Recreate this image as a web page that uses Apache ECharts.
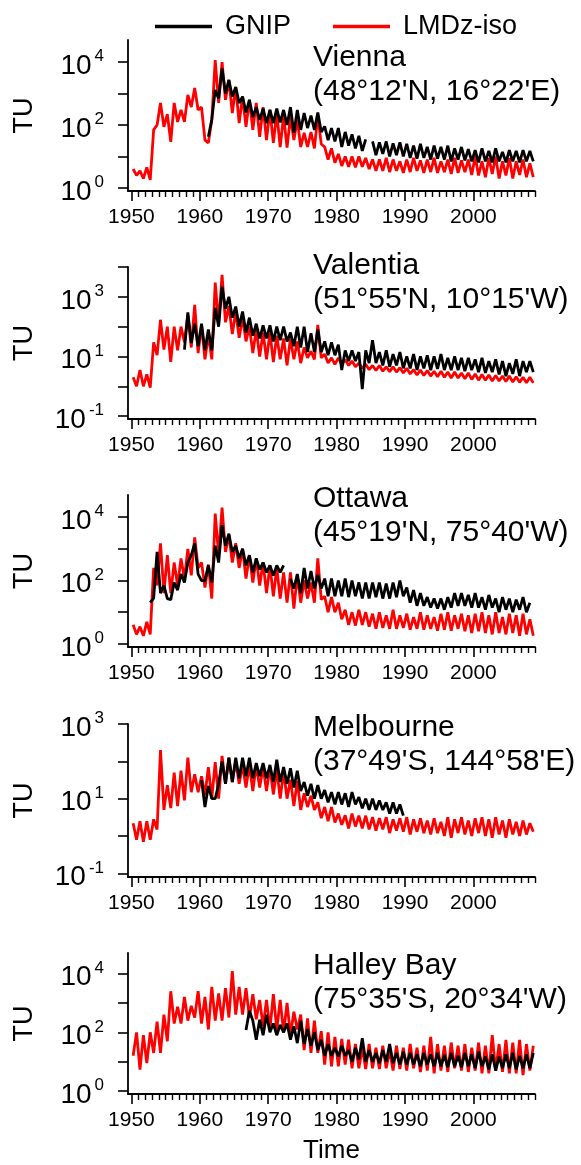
<!DOCTYPE html>
<html><head><meta charset="utf-8">
<script src="https://cdn.jsdelivr.net/npm/echarts@6/dist/echarts.min.js"></script>
<style>html,body{margin:0;padding:0;background:#fff}#c{width:581px;height:1165px}</style>
</head><body><div id="c"></div>
<script>
// ---- labels ----
const stationNames = ['Vienna', 'Valentia', 'Ottawa', 'Melbourne', 'Halley Bay'];
const stationCoords = ["(48°12'N, 16°22'E)", "(51°55'N, 10°15'W)", "(45°19'N, 75°40'W)", "(37°49'S, 144°58'E)", "(75°35'S, 20°34'W)"];
const seriesNames = ['GNIP', 'LMDz-iso'];
const yearTicksMajor = [1950, 1960, 1970, 1980, 1990, 2000];
const yearTicksMinor = [1951,1952,1953,1954,1955,1956,1957,1958,1959,1961,1962,1963,1964,1965,1966,1967,1968,1969,1971,1972,1973,1974,1975,1976,1977,1978,1979,1981,1982,1983,1984,1985,1986,1987,1988,1989,1991,1992,1993,1994,1995,1996,1997,1998,1999,2001,2002,2003,2004,2005,2006,2007,2008,2009];

// y ticks / labels (TU) per panel
const ticksVienna = [1, 10, 100, 1000, 10000];   const labelsVienna = [1, 100, 10000];
const ticksValentia = [0.1, 1, 10, 100, 1000, 10000]; const labelsValentia = [0.1, 10, 1000];
const ticksOttawa = [1, 10, 100, 1000, 10000];   const labelsOttawa = [1, 100, 10000];
const ticksMelbourne = [0.1, 1, 10, 100, 1000];  const labelsMelbourne = [0.1, 10, 1000];
const ticksHalley = [1, 10, 100, 1000, 10000];   const labelsHalley = [1, 100, 10000];

// ---- data (TU), half-year steps; first value at start + 0.25 ----
const viennaLMDzStart = 1950;
const viennaLMDz = [4,2.5, 3.5,2, 4.5,1.8, 70,100, 500,87, 220,29, 500,125, 300,125, 900,370, 1500,300,
  370,33, 27,145, 11500,500, 10000,630, 2700,240, 1600,115, 800,87, 630,70, 500,42, 370,33,
  300,27, 240,20, 200,19, 180,33, 145,20, 56,20, 60,18, 200,25, 20,8, 18,6.3,
  12,5, 10,4.7, 10,4.5, 10,4.7, 9,4, 8,3.5, 8,3.5, 9,3.2, 8,3.5, 7,3,
  8,3.2, 9,3.5, 7.5,3, 8,3.2, 9,3, 7,3.2, 8,2.8, 9,3, 7.5,3.2, 8,2.6,
  10,2.5, 7,2.2, 9,2.8, 10,2, 7,2.5, 9,2, 7,2.6, 8,2.2, 6,2.2];
const viennaGNIPStart = 1961;
const viennaGNIP = [42,150, 1300,700, 6300,1000, 2700,800, 1600,500, 800,250, 630,180, 370,145, 330,115,
  300,115, 330,120, 300,100, 370,56, 300,70, 240,80, 200,70, 250,60, 90,33, 80,30,
  80,20, 60,22, 50,18, 45,15, 35,null, 30,11, 28,12, 30,10, 26,11, 28,10,
  25,9, 22,8.5, 25,9, 20,8, 22,8.5, 20,8, 22,7, 18,8, 20,7.5, 17,7,
  16,6.5, 18,7, 15,6.5, 18,7, 14,6.5, 16,7, 15,6.5, 16,7, 15,7];

const valentiaLMDzStart = 1950;
const valentiaLMDz = [2,1, 3.5,1, 2.5,0.9, 30,11, 170,17, 100,6.6, 100,16, 100,30, 250,20, 540,13,
  110,8, 53,8, 3000,130, 5500,140, 500,56, 320,42, 200,32, 100,13, 80,10, 63,8,
  63,6.5, 50,8, 40,5, 40,8, 32,6, 20,9, 15,8, 115,9, 12,6, 9,5.4,
  9,5.4, 8,5, 7,4.5, 6,4, 5.5,3.6, 5,3.4, 5,3.2, 4.5,3.1, 4.5,3, 4.2,2.8,
  4,2.6, 3.6,2.4, 3.5,2.3, 3.4,2.2, 3.2,2.1, 3.2,2, 3,1.9, 3,1.9, 2.8,1.8, 2.8,1.7,
  2.6,1.6, 2.5,1.6, 2.4,1.5, 2.3,1.5, 2.2,1.45, 2.2,1.4, 2.1,1.35, 2,1.3, 2,1.3];
const valentiaGNIPStart = 1957;
const valentiaGNIP = [null,17, 300,28, 125,22,
  125,16, 80,16, 430,100, 2200,400, 1000,200, 470,100, 320,63, 200,50, 125,40, 110,40,
  110,32, 100,35, 100,32, 63,22, 100,20, 100,14, 60,14, 80,14, 32,11, 30,11,
  25,3.5, 16,7, 16,7, 14,0.8, 16,6, 35,6, 14,5, 16,4.5, 12,5, 14,4,
  10,4, 12,3.5, 10,4, 11,3.5, 10,3.8, 12,3.5, 9,3.5, 10,3.5, 9,3.2, 9,3.5,
  8,3, 9,2.8, 7,3, 8,2.5, 7,2.2, 6,2.6, 8,2.2, 7,3, 7,3];

const ottawaLMDzStart = 1950;
const ottawaLMDz = [4,2, 3.5,1.8, 5,2, 250,70, 1500,40, 630,40, 370,70, 500,115, 1000,145, 2300,250,
  370,60, 320,27, 13000,630, 20000,800, 2700,370, 1500,250, 1000,115, 630,87, 500,70, 370,40,
  300,32, 250,27, 180,20, 180,13, 145,20, 100,27, 87,20, 500,25, 32,10, 30,10,
  20,6, 12,4, 10,3.8, 12,4, 10,3.5, 9,3, 10,3.2, 8,3, 12,3, 8,3.2,
  9,2.8, 7,3, 10,2.8, 8,3, 7,2.6, 9,2.8, 10,2.6, 8,3, 9,2.5, 8,2.2,
  9,2.5, 10,2.2, 8,2, 10,2.2, 7,2, 9,2.2, 8,1.8, 9,2, 6,1.8];
const ottawaGNIPStart = 1952.5;
const ottawaGNIP = [20, 28,800, 40,70, 27,25, 87,50, 160,87, 370,630, 1500,160,
  100,100, 300,87, 1260,370, 5600,1260, 3000,800, 1260,500, 1000,300, 630,180, 500,220, 370,180,
  300,145, 300,180, 300,null, 115,56, 160,40,
  250,56, 200,56, 150,56, 115,32, 115,32, 100,32, 115,30, 100,32, 87,27, 87,27,
  87,30, 87,27, 80,27, 87,30, 100,32, 60,20, 50,16, 40,16, 30,14, 27,13,
  27,12, 30,14, 40,16, 40,16, 35,14, 40,14, 30,12, 35,14, 27,10, 30,12,
  27,10, 25,12, 30,10, 20];

const melbourneLMDzStart = 1950;
const melbourneLMDz = [2.2,0.8, 2.5,0.7, 2.5,0.8, 2.8,1.5, 200,5, 23,5.6, 50,6.3, 56,9, 125,15, 45,15,
  40,12.5, 70,10, 95,10, 140,25, 125,28, 100,25, 80,20, 80,16, 80,20, 70,16,
  70,13, 60,10, 55,10, 32,6.3, 30,5, 14,6, 12,5, 8,3, 6,2.5, 6,2.3,
  4,2, 3.6,1.6, 4,1.8, 3.5,1.6, 3.5,1.5, 3.2,1.4, 3,1.5, 3.2,1.2, 2.8,1.4, 3,1.3,
  3.2,1.1, 2.8,1.3, 3,1.2, 2.6,1.1, 3,1.2, 2.4,1, 3.2,0.9, 2.8,1.2, 3.2,1.1, 2.6,1,
  3,1.2, 3.2,1, 2.8,0.9, 3.2,1.1, 2.6,0.9, 2.8,1.1, 2.4,1, 2.6,1.1, 2.2,1.3];
const melbourneGNIPStart = 1960;
const melbourneGNIP = [32,6, 22,10, 10,25, 100,25, 125,28, 125,35, 125,40, 125,35, 90,40, 90,35,
  80,28, 110,28, 70,25, 65,20, 56,16, 28,12, 25,10, 23,10, 17,8, 15,7,
  15,7, 14,6, 15,7, 11,5.5, 10,5, 10,5, 9,5, 8,4, 8,4, 7,3.5];

const halleyLMDzStart = 1950;
const halleyLMDz = [16,100, 5.4,80, 9,100, 20,230, 20,400, 50,2500, 200,740, 200,1600, 250,800, 320,2500,
  200,1600, 125,3500, 250,2100, 250,3200, 320,12000, 400,3500, 400,3200, 320,2000, 280,1260, 160,1260,
  125,2000, 125,1260, 100,1000, 80,500, 125,400, 25,300, 20,250, 20,110, 8,100, 7,70,
  7,60, 8,56, 6,40, 6,30, 5.6,40, 6,30, 5.6,35, 6,25, 5,35, 5.6,30,
  5,40, 6,30, 4.5,35, 5,70, 4,40, 5,35, 4.5,45, 6,35, 5,40, 4.5,30,
  5,45, 4,35, 4,80, 5,40, 4.5,55, 4,45, 4,55, 3.5,40, 5,35];
const halleyGNIPStart = 1966.5;
const halleyGNIP = [120, 540,250, 56,270, 80,400, 100,200, 80,180, 100,200, 56,160, 43,250,
  40,130, 35,100, 25,56, 16,40, 16,30, 15,35, 16,25, 10,30, 12,63, 10,25,
  10,20, 9,25, 10,40, 9,20, 8,22, 8,20, 8,18, 7,20, 8,18, 7,20,
  7,17, 6.5,20, 7,16, 6.5,20, 7,18, 6,22, 7,15, 5.5,18, 5,15, 6,18,
  6,20, 5.5,16, 6,18, 6,20];

// ---- build ----
function pairs(start, vals) {
  return vals.map((v, i) => [start + 0.25 + 0.5 * i, v === null ? '-' : v]);
}
const panels = [
  {red: pairs(viennaLMDzStart, viennaLMDz), black: pairs(viennaGNIPStart, viennaGNIP), ticks: ticksVienna, labels: labelsVienna, ymin: 0.8, ymax: 50000, top: 40, height: 151, titleTop: 41},
  {red: pairs(valentiaLMDzStart, valentiaLMDz), black: pairs(valentiaGNIPStart, valentiaGNIP), ticks: ticksValentia, labels: labelsValentia, ymin: 0.08, ymax: 10000, top: 267, height: 152, titleTop: 249},
  {red: pairs(ottawaLMDzStart, ottawaLMDz), black: pairs(ottawaGNIPStart, ottawaGNIP), ticks: ticksOttawa, labels: labelsOttawa, ymin: 0.8, ymax: 50000, top: 495, height: 152, titleTop: 482},
  {red: pairs(melbourneLMDzStart, melbourneLMDz), black: pairs(melbourneGNIPStart, melbourneGNIP), ticks: ticksMelbourne, labels: labelsMelbourne, ymin: 0.08, ymax: 1000, top: 724, height: 153, titleTop: 711},
  {red: pairs(halleyLMDzStart, halleyLMDz), black: pairs(halleyGNIPStart, halleyGNIP), ticks: ticksHalley, labels: labelsHalley, ymin: 0.8, ymax: 50000, top: 953, height: 144, titleTop: 949}
];

const FONT = "'Liberation Sans', Arial, Helvetica, sans-serif";
const grid = [], xAxis = [], yAxis = [], series = [], title = [];
panels.forEach((p, i) => {
  grid.push({left: 128, width: 407, top: p.top, height: p.height});
  title.push({
    text: stationNames[i] + '\n' + stationCoords[i], left: 313, top: p.titleTop, padding: 0,
    textStyle: {fontFamily: FONT, fontSize: 30, fontWeight: 'normal', color: '#000', lineHeight: 34}
  });
  const isLast = i === panels.length - 1;
  xAxis.push({
    type: 'value', gridIndex: i, min: 1949.5, max: 2009, position: 'bottom',
    name: isLast ? 'Time' : '', nameLocation: 'middle', nameGap: 44,
    nameTextStyle: {fontFamily: FONT, fontSize: 26, color: '#000'},
    axisLine: {show: true, onZero: false, lineStyle: {color: '#000', width: 1.8}},
    axisTick: {show: true, customValues: yearTicksMajor, length: 10, lineStyle: {color: '#000', width: 1.6}},
    axisLabel: {show: true, customValues: yearTicksMajor, margin: 16, fontFamily: FONT, fontSize: 21, color: '#000',
      formatter: v => String(v)},
    splitLine: {show: false}
  });
  xAxis.push({
    type: 'value', gridIndex: i, min: 1949.5, max: 2009, position: 'bottom',
    axisLine: {show: false, onZero: false},
    axisTick: {show: true, customValues: yearTicksMinor, length: 6, lineStyle: {color: '#000', width: 1.4}},
    axisLabel: {show: false},
    splitLine: {show: false}
  });
  yAxis.push({
    type: 'log', logBase: 10, gridIndex: i, min: p.ymin, max: p.ymax,
    name: 'TU', nameLocation: 'middle', nameGap: 90,
    nameTextStyle: {fontFamily: FONT, fontSize: 27, color: '#000'},
    axisLine: {show: true, onZero: false, lineStyle: {color: '#000', width: 1.8}},
    axisTick: {show: true, customValues: p.ticks, length: 10, lineStyle: {color: '#000', width: 1.6}},
    axisLabel: {
      show: true, customValues: p.labels, margin: 24, color: '#000',
      formatter: v => '{b|10}{s|' + Math.round(Math.log10(v)) + '}',
      rich: {
        b: {fontFamily: FONT, fontSize: 28, color: '#000', lineHeight: 28, padding: [8, 0, 0, 0]},
        s: {fontFamily: FONT, fontSize: 17, color: '#000', lineHeight: 18, verticalAlign: 'top', padding: [0, 0, 0, 3]}
      }
    },
    splitLine: {show: false},
    minorTick: {show: false}
  });
  series.push({
    type: 'line', name: seriesNames[1], xAxisIndex: 2 * i, yAxisIndex: i, data: p.red,
    symbol: 'none', showSymbol: false, connectNulls: false, z: 2,
    lineStyle: {color: '#ff0000', width: 2.8}, itemStyle: {color: '#ff0000'}
  });
  series.push({
    type: 'line', name: seriesNames[0], xAxisIndex: 2 * i, yAxisIndex: i, data: p.black,
    symbol: 'none', showSymbol: false, connectNulls: false, z: 3,
    lineStyle: {color: '#000000', width: 2.8}, itemStyle: {color: '#000000'}
  });
});

const chart = echarts.init(document.getElementById('c'), null, {renderer: 'canvas'});
chart.setOption({
  animation: false,
  backgroundColor: '#fff',
  textStyle: {fontFamily: FONT},
  title: title,
  legend: {
    data: [{name: seriesNames[0]}, {name: seriesNames[1]}],
    left: 155, top: 13, padding: 0, itemGap: 42,
    icon: 'rect', itemWidth: 57, itemHeight: 3.5,
    textStyle: {fontFamily: FONT, fontSize: 27, color: '#000', padding: [0, 0, 0, 8]}
  },
  grid: grid,
  xAxis: xAxis,
  yAxis: yAxis,
  series: series
});
</script>
</body></html>
